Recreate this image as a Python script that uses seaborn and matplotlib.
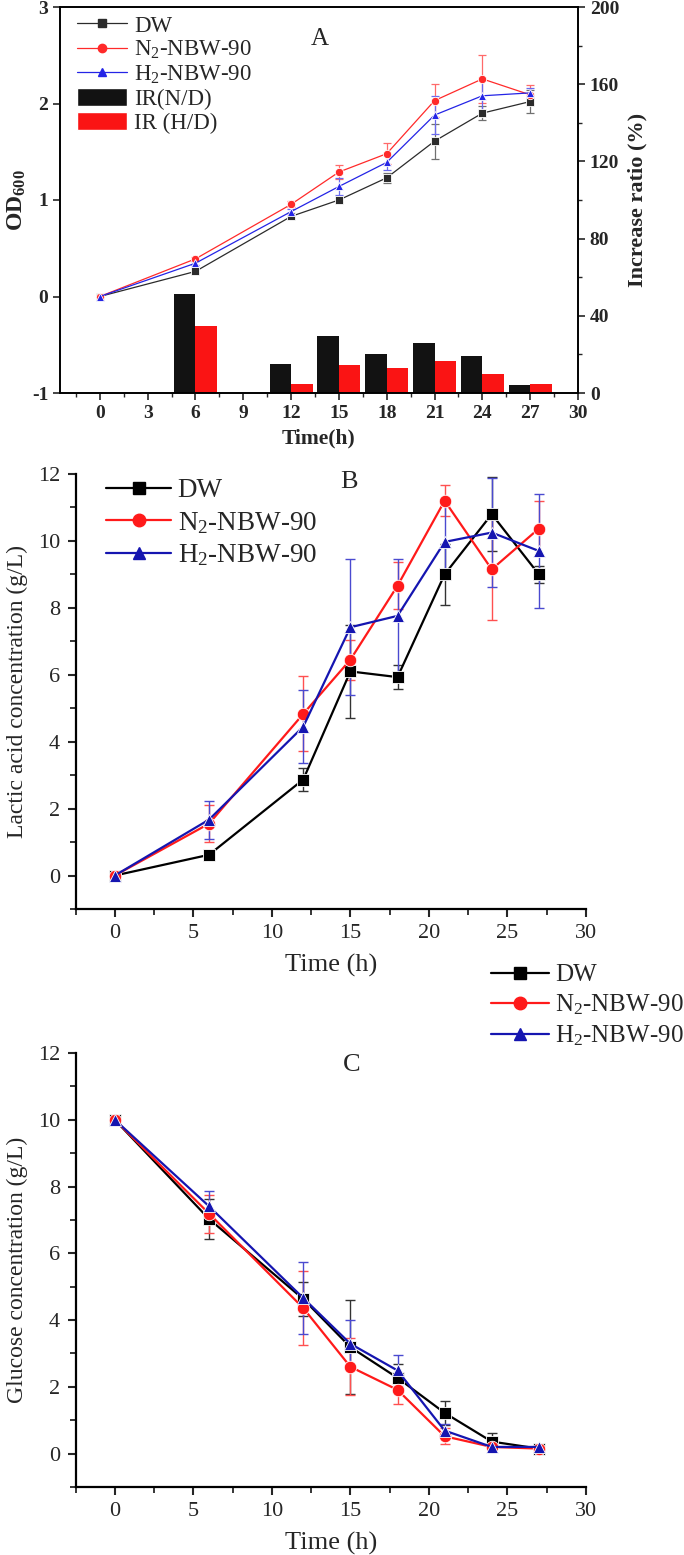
import numpy as np
import pandas as pd
import matplotlib
matplotlib.use("Agg")
import matplotlib.pyplot as plt
import seaborn as sns
from matplotlib.lines import Line2D
from matplotlib.patches import Patch
from matplotlib.ticker import MultipleLocator

# ---------------- data ----------------
time = [0, 6, 12, 15, 18, 21, 24, 27]
series = ["DW", "N$_2$-NBW-90", "H$_2$-NBW-90"]

# Panel A: OD600
od_dw = [0.0, 0.26, 0.83, 1.00, 1.23, 1.61, 1.90, 2.02]
od_dw_err = [0.01, 0.02, 0.02, 0.02, 0.05, 0.18, 0.07, 0.12]
od_n2 = [0.0, 0.39, 0.955, 1.29, 1.48, 2.03, 2.255, 2.09]
od_n2_err = [0.01, 0.02, 0.03, 0.075, 0.11, 0.17, 0.25, 0.10]
od_h2 = [0.0, 0.345, 0.88, 1.14, 1.39, 1.88, 2.08, 2.11]
od_h2_err = [0.01, 0.02, 0.03, 0.09, 0.08, 0.20, 0.16, 0.05]

bar_time = [6, 12, 15, 18, 21, 24, 27]
ir_nd = [51.2, 15.0, 29.3, 20.2, 25.9, 19.0, 4.3]
ir_hd = [34.5, 4.7, 14.3, 12.8, 16.4, 9.8, 4.8]
bar_labels = ["IR(N/D)", "IR (H/D)"]

# Panel B: lactic acid
la_dw = [0.0, 0.62, 2.87, 6.10, 5.93, 9.00, 10.80, 9.00]
la_dw_err = [0.05, 0.05, 0.35, 1.40, 0.37, 0.90, 1.10, 0.26]
la_n2 = [0.0, 1.55, 4.83, 6.45, 8.66, 11.20, 9.15, 10.37]
la_n2_err = [0.05, 0.55, 1.12, 0.60, 0.70, 0.46, 1.52, 0.83]
la_h2 = [0.0, 1.67, 4.45, 7.42, 7.76, 9.97, 10.25, 9.70]
la_h2_err = [0.05, 0.57, 1.10, 2.03, 1.70, 1.10, 1.62, 1.71]

# Panel C: glucose
gl_dw = [10.0, 7.03, 4.63, 3.19, 2.27, 1.22, 0.36, 0.15]
gl_dw_err = [0.05, 0.60, 0.50, 1.40, 0.40, 0.35, 0.25, 0.05]
gl_n2 = [10.0, 7.19, 4.36, 2.60, 1.91, 0.52, 0.20, 0.15]
gl_n2_err = [0.05, 0.57, 1.12, 0.85, 0.43, 0.24, 0.05, 0.05]
gl_h2 = [10.0, 7.41, 4.66, 3.29, 2.49, 0.69, 0.20, 0.20]
gl_h2_err = [0.05, 0.46, 1.07, 0.71, 0.47, 0.20, 0.05, 0.05]

# ---------------- style ----------------
sns.set_theme(style="ticks")
SERIF = "Liberation Serif"
plt.rcParams["font.family"] = [SERIF, "DejaVu Serif"]
plt.rcParams["mathtext.fontset"] = "custom"
plt.rcParams["mathtext.rm"] = SERIF
plt.rcParams["mathtext.it"] = SERIF + ":italic"
plt.rcParams["mathtext.bf"] = SERIF + ":bold"
plt.rcParams["axes.unicode_minus"] = False
plt.rcParams["xtick.direction"] = "out"
plt.rcParams["ytick.direction"] = "out"

markers = {series[0]: "s", series[1]: "o", series[2]: "^"}

fig = plt.figure(figsize=(6.84, 15.55), dpi=100)
H = 1555.0
W = 684.0


def axes_px(left, right, top, bottom):
    return fig.add_axes([left / W, 1 - bottom / H, (right - left) / W, (bottom - top) / H])


def long_df(vals):
    rows = []
    for name, v in zip(series, vals):
        for t, y in zip(time, v):
            rows.append({"time": t, "value": y, "series": name})
    return pd.DataFrame(rows)


def draw_lines(ax, vals, errs, line_cols, err_cols, lw, ms, capsize, elw):
    df = long_df(vals)
    pal = dict(zip(series, line_cols))
    sns.lineplot(data=df, x="time", y="value", hue="series", style="series",
                 markers=markers, dashes=False, palette=pal, ax=ax, legend=False,
                 linewidth=lw, markersize=ms, markeredgewidth=0.6,
                 estimator=None, sort=False)
    for name, v, e, ec in zip(series, vals, errs, err_cols):
        ax.errorbar(time, v, yerr=e, fmt="none", ecolor=ec, elinewidth=elw,
                    capsize=capsize, capthick=elw, zorder=1.5)


# ================= Panel A =================
axA = axes_px(60, 578, 7, 393)
ax2 = axA.twinx()
axA.set_zorder(ax2.get_zorder() + 1)
axA.patch.set_visible(False)

ax2.bar(bar_time, ir_nd, width=-1.35, align="edge", color="#121212", edgecolor="none")
ax2.bar(bar_time, ir_hd, width=1.35, align="edge", color="#fa1414", edgecolor="none")
ax2.set_ylim(0, 200)
ax2.yaxis.set_major_locator(MultipleLocator(40))
ax2.yaxis.set_minor_locator(MultipleLocator(20))
ax2.set_ylabel("Increase ratio (%)", fontsize=16, fontweight="bold", labelpad=6)

colsA = ["#2b2b2b", "#ff2a2a", "#2424e6"]
errA = ["#707070", "#ff6a6a", "#6a6aee"]
draw_lines(axA, [od_dw, od_n2, od_h2], [od_dw_err, od_n2_err, od_h2_err],
           colsA, errA, lw=0.9, ms=6, capsize=3, elw=0.9)
axA.set_xlim(-2.5, 30)
axA.set_ylim(-1, 3)
axA.xaxis.set_major_locator(MultipleLocator(3))
axA.xaxis.set_minor_locator(MultipleLocator(1.5))
axA.yaxis.set_major_locator(MultipleLocator(1))
axA.set_xlabel("Time(h)", fontsize=15.5, fontweight="bold", labelpad=5)
axA.set_ylabel(r"OD$_{\mathbf{600}}$", fontsize=17, fontweight="bold", labelpad=3)
for a in (axA, ax2):
    for sp in a.spines.values():
        sp.set_linewidth(1.2)
        sp.set_color("black")
    a.tick_params(which="major", length=5, width=1.2, labelsize=14)
    a.tick_params(which="minor", length=3, width=1.0)
    for lab in a.get_xticklabels() + a.get_yticklabels():
        lab.set_fontweight("bold")
axA.text(13.8, 2.67, "A", fontsize=18, ha="center", va="center")

handlesA = [Line2D([], [], color=c, marker=m, markersize=6, lw=0.9)
            for c, m in zip(colsA, ["s", "o", "^"])]
handlesA += [Patch(facecolor="#121212"), Patch(facecolor="#fa1414")]
axA.legend(handlesA, series + bar_labels, loc="upper left",
           bbox_to_anchor=(77 / W, 1 - 15 / H), bbox_transform=fig.transFigure,
           frameon=False, fontsize=16.5, handlelength=2.2, handleheight=0.8,
           handletextpad=0.3, labelspacing=0.1, borderpad=0, borderaxespad=0)

# ================= Panels B & C =================
colsBC = ["#000000", "#ff1a1a", "#1515b0"]
errBC = ["#333333", "#ff5050", "#4a4ad0"]


def style_bc(ax, ylabel):
    ax.set_xlim(-2.5, 30)
    ax.set_ylim(-1, 12)
    ax.xaxis.set_major_locator(MultipleLocator(5))
    ax.xaxis.set_minor_locator(MultipleLocator(2.5))
    ax.yaxis.set_major_locator(MultipleLocator(2))
    ax.yaxis.set_minor_locator(MultipleLocator(1))
    sns.despine(ax=ax)
    for sp in ("left", "bottom"):
        ax.spines[sp].set_linewidth(1.6)
        ax.spines[sp].set_color("black")
    ax.tick_params(which="major", length=6, width=1.5, labelsize=16, pad=5)
    ax.tick_params(which="minor", length=4, width=1.3)
    ax.set_xlabel("Time (h)", fontsize=19, labelpad=8)
    ax.set_ylabel(ylabel, fontsize=17)
    ax.yaxis.set_label_coords(-0.093, 0.5)


axB = axes_px(75.5, 586, 474, 909)
draw_lines(axB, [la_dw, la_n2, la_h2], [la_dw_err, la_n2_err, la_h2_err],
           colsBC, errBC, lw=1.6, ms=9, capsize=3.5, elw=1.0)
style_bc(axB, "Lactic acid concentration (g/L)")
axB.text(14.9, 11.76, "B", fontsize=19, ha="center", va="center")

handlesBC = [Line2D([], [], color=c, marker=m, markersize=9, lw=1.6)
             for c, m in zip(colsBC, ["s", "o", "^"])]
axB.legend(handlesBC, series, loc="upper left",
           bbox_to_anchor=(106 / W, 1 - 478 / H), bbox_transform=fig.transFigure,
           frameon=False, fontsize=19.5, handlelength=2.4, handletextpad=0.25,
           labelspacing=0.25, borderpad=0, borderaxespad=0)

axC = axes_px(75.5, 586, 1053, 1487)
draw_lines(axC, [gl_dw, gl_n2, gl_h2], [gl_dw_err, gl_n2_err, gl_h2_err],
           colsBC, errBC, lw=1.6, ms=9, capsize=3.5, elw=1.0)
style_bc(axC, "Glucose concentration (g/L)")
axC.text(15.1, 11.65, "C", fontsize=19, ha="center", va="center")

fig.legend(handlesBC, series, loc="upper left",
           bbox_to_anchor=(491 / W, 1 - 964 / H),
           frameon=False, fontsize=18, handlelength=2.3, handletextpad=0.25,
           labelspacing=0.25, borderpad=0, borderaxespad=0)

fig.savefig("out.png", dpi=100)
